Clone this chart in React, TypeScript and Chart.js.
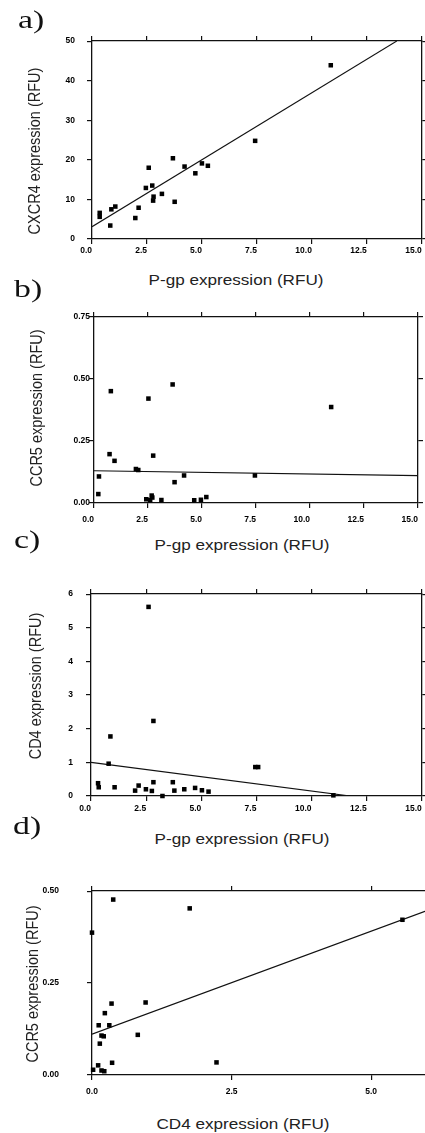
import React, { useEffect, useRef } from "react";
import { Chart, registerables } from "chart.js";

Chart.register(...registerables);

// ---- data ----
// a) P-gp vs CXCR4
const aPgp = [0.35, 0.35, 0.83, 0.88, 1.06, 1.97, 2.12, 2.45, 2.58, 2.74, 2.8, 2.78, 3.18, 3.68, 3.76, 4.21, 4.7, 5.0, 5.27, 7.42, 10.86];
const aCxcr4 = [6.6, 5.6, 3.4, 7.5, 8.2, 5.3, 7.9, 12.9, 18.0, 13.5, 10.7, 9.7, 11.4, 20.4, 9.4, 18.3, 16.6, 19.1, 18.5, 24.8, 43.9];
const aFitX = [0, 13.86];
const aFitY = [3.1, 50];

// b) P-gp vs CCR5
const bPgp = [0.2, 0.23, 0.72, 0.78, 0.95, 1.94, 2.05, 2.42, 2.52, 2.6, 2.67, 2.7, 2.74, 3.12, 3.64, 3.73, 4.17, 4.64, 4.95, 5.2, 7.45, 10.98];
const bCcr5 = [0.036, 0.107, 0.197, 0.451, 0.17, 0.137, 0.133, 0.015, 0.421, 0.012, 0.03, 0.022, 0.191, 0.012, 0.478, 0.084, 0.111, 0.011, 0.013, 0.024, 0.111, 0.387];
const bFitX = [0, 15];
const bFitY = [0.13, 0.11];

// c) P-gp vs CD4
const cPgp = [0.32, 0.35, 0.8, 0.88, 1.07, 2.0, 2.16, 2.49, 2.61, 2.76, 2.83, 2.83, 3.24, 3.71, 3.78, 4.23, 4.72, 5.03, 5.33, 7.45, 7.58, 10.99];
const cCd4 = [0.38, 0.26, 0.96, 1.77, 0.26, 0.16, 0.31, 0.2, 5.62, 0.15, 0.41, 2.23, 0.0, 0.41, 0.16, 0.2, 0.24, 0.17, 0.13, 0.86, 0.86, 0.02];
const cFitX = [0, 11.75];
const cFitY = [1.0, 0];

// d) CD4 vs CCR5
const dCd4 = [0, 0.02, 0.12, 0.11, 0.14, 0.17, 0.21, 0.17, 0.22, 0.23, 0.31, 0.35, 0.38, 0.36, 0.82, 0.96, 1.75, 2.23, 5.56];
const dCcr5 = [0.387, 0.014, 0.135, 0.026, 0.085, 0.107, 0.105, 0.012, 0.01, 0.168, 0.135, 0.194, 0.477, 0.033, 0.109, 0.197, 0.453, 0.034, 0.422];
const dFitX = [0, 6];
const dFitY = [0.111, 0.447];

const panelLetters = ["a)", "b)", "c)", "d)"];
const xTitles = ["P-gp expression (RFU)", "P-gp expression (RFU)", "P-gp expression (RFU)", "CD4 expression (RFU)"];
const yTitles = ["CXCR4 expression (RFU)", "CCR5 expression (RFU)", "CD4 expression (RFU)", "CCR5 expression (RFU)"];

const SANS = '"Liberation Sans", Arial, Helvetica, sans-serif';
const SERIF = '"Liberation Serif", "Times New Roman", "DejaVu Serif", serif';

type PanelCfg = {
  xs: number[]; ys: number[]; fx: number[]; fy: number[];
  xMin: number; xMax: number; xStep: number; xDec: number;
  yMin: number; yMax: number; yStep: number; yDec: number;
  top: number; plotTop: number; plotBottom: number; plotLeft: number; plotRight: number;
  canvasW: number; yPad: number; xPad: number; xAlign: "center" | "end";
};

const panels: PanelCfg[] = [
  { xs: aPgp, ys: aCxcr4, fx: aFitX, fy: aFitY, xMin: 0, xMax: 15, xStep: 2.5, xDec: 1, yMin: 0, yMax: 50, yStep: 10, yDec: 0,
    top: 24, plotTop: 34, plotBottom: 239, plotLeft: 92, plotRight: 422, canvasW: 425, yPad: 12, xPad: 2, xAlign: "end" },
  { xs: bPgp, ys: bCcr5, fx: bFitX, fy: bFitY, xMin: 0, xMax: 15, xStep: 2.5, xDec: 1, yMin: 0, yMax: 0.75, yStep: 0.25, yDec: 2,
    top: 307, plotTop: 317, plotBottom: 503, plotLeft: 94, plotRight: 423, canvasW: 425, yPad: -1, xPad: 7, xAlign: "end" },
  { xs: cPgp, ys: cCd4, fx: cFitX, fy: cFitY, xMin: 0, xMax: 15, xStep: 2.5, xDec: 1, yMin: 0, yMax: 6, yStep: 1, yDec: 0,
    top: 576, plotTop: 586, plotBottom: 796, plotLeft: 91, plotRight: 422, canvasW: 425, yPad: 13, xPad: 3, xAlign: "end" },
  { xs: dCd4, ys: dCcr5, fx: dFitX, fy: dFitY, xMin: 0, xMax: 6, xStep: 2.5, xDec: 1, yMin: 0, yMax: 0.5, yStep: 0.25, yDec: 2,
    top: 858, plotTop: 868, plotBottom: 1082, plotLeft: 92, plotRight: 427, canvasW: 440, yPad: 28, xPad: 7, xAlign: "center" },
];

const PAD_TOP = 10;
const X_AXIS_H = 26;

function Panel({ cfg }: { cfg: PanelCfg }) {
  const ref = useRef<HTMLCanvasElement | null>(null);
  const h = PAD_TOP + (cfg.plotBottom - cfg.plotTop) + X_AXIS_H;
  useEffect(() => {
    if (!ref.current) return;
    const pts = cfg.xs.map((x, i) => ({ x, y: cfg.ys[i] }));
    const fit = cfg.fx.map((x, i) => ({ x, y: cfg.fy[i] }));
    const tickFont = { family: SANS, size: 8.5, weight: "bold" as const };
    const grid = { drawOnChartArea: false, drawTicks: true, tickLength: 5, color: "#111", lineWidth: 1.2 };
    const border = { display: true, color: "#111", width: 1.3 };
    const chart = new Chart(ref.current, {
      type: "scatter",
      data: {
        datasets: [
          {
            type: "scatter",
            data: pts,
            pointStyle: "rect",
            pointRadius: 3.2,
            pointHoverRadius: 3.2,
            backgroundColor: "#000",
            borderColor: "#000",
            borderWidth: 0,
            clip: false as any,
          },
          {
            type: "line",
            data: fit,
            borderColor: "#111",
            borderWidth: 1.2,
            pointRadius: 0,
            fill: false,
            tension: 0,
          } as any,
        ],
      },
      options: {
        responsive: false,
        animation: false,
        events: [],
        layout: { padding: { top: PAD_TOP, left: 0, right: 0, bottom: 0 } },
        plugins: { legend: { display: false }, tooltip: { enabled: false } },
        scales: {
          x: {
            type: "linear", position: "bottom", min: cfg.xMin, max: cfg.xMax,
            ticks: {
              stepSize: cfg.xStep, includeBounds: false, autoSkip: false, maxRotation: 0,
              font: tickFont, color: "#000", padding: cfg.xPad, align: cfg.xAlign,
              callback: (v: any) => Number(v).toFixed(cfg.xDec),
            },
            grid, border,
            afterFit: (s: any) => { s.height = X_AXIS_H; },
          },
          x2: {
            type: "linear", position: "top", min: cfg.xMin, max: cfg.xMax,
            ticks: { stepSize: cfg.xStep, includeBounds: false, display: false },
            grid, border,
            afterFit: (s: any) => { s.height = 0; },
          },
          y: {
            type: "linear", position: "left", min: cfg.yMin, max: cfg.yMax,
            ticks: {
              stepSize: cfg.yStep, includeBounds: false, autoSkip: false,
              font: tickFont, color: "#000", padding: cfg.yPad,
              callback: (v: any) => Number(v).toFixed(cfg.yDec),
            },
            grid, border,
            afterFit: (s: any) => { s.width = cfg.plotLeft; },
          },
          y2: {
            type: "linear", position: "right", min: cfg.yMin, max: cfg.yMax,
            ticks: { stepSize: cfg.yStep, includeBounds: false, display: false },
            grid, border,
            afterFit: (s: any) => { s.width = cfg.canvasW - cfg.plotRight; },
          },
        },
      } as any,
    });
    return () => chart.destroy();
  }, []);
  return (
    <canvas
      ref={ref}
      width={cfg.canvasW}
      height={h}
      style={{ position: "absolute", left: 0, top: cfg.top, width: cfg.canvasW, height: h }}
    />
  );
}

const letterPos = [
  { left: 18, base: 29 },
  { left: 14, base: 298 },
  { left: 14, base: 549 },
  { left: 13, base: 835 },
];
const xTitlePos = [
  { cx: 236, cy: 279.5 },
  { cx: 242, cy: 545 },
  { cx: 242, cy: 839 },
  { cx: 243, cy: 1124 },
];
const yTitlePos = [
  { cx: 34, cy: 151 },
  { cx: 36, cy: 408 },
  { cx: 35, cy: 686 },
  { cx: 32, cy: 984 },
];

export default function App() {
  const LETTER_FS = 26;
  const TITLE_FS = 14.5;
  return (
    <div style={{ position: "absolute", left: 0, top: 0, width: 425, height: 1133, overflow: "hidden", background: "#fff" }}>
      {panels.map((p, i) => <Panel key={i} cfg={p} />)}
      {panelLetters.map((t, i) => (
        <div key={"l" + i} style={{
          position: "absolute", left: letterPos[i].left, top: letterPos[i].base - 0.8375 * LETTER_FS,
          fontFamily: SERIF, fontSize: LETTER_FS, lineHeight: 1, color: "#111",
          transform: "scaleX(1.3)", transformOrigin: "left center", whiteSpace: "nowrap",
        }}>{t}</div>
      ))}
      {xTitles.map((t, i) => (
        <div key={"x" + i} style={{
          position: "absolute", left: xTitlePos[i].cx, top: xTitlePos[i].cy,
          fontFamily: SANS, fontSize: TITLE_FS, lineHeight: 1, color: "#222", whiteSpace: "nowrap",
          transform: "translate(-50%, -50%) scaleX(1.18)",
        }}>{t}</div>
      ))}
      {yTitles.map((t, i) => (
        <div key={"y" + i} style={{
          position: "absolute", left: yTitlePos[i].cx, top: yTitlePos[i].cy,
          fontFamily: SANS, fontSize: TITLE_FS, lineHeight: 1, color: "#222", whiteSpace: "nowrap",
          transform: "translate(-50%, -50%) scaleX(1.18) rotate(-90deg)",
        }}>{t}</div>
      ))}
    </div>
  );
}
